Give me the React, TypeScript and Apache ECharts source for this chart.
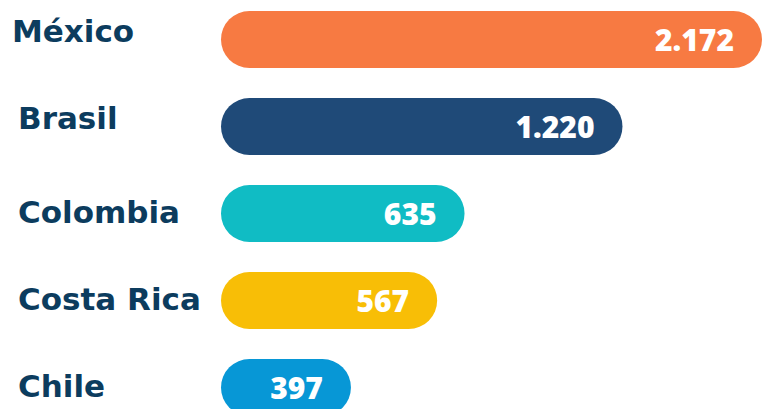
import React, { useEffect, useRef } from "react";
import * as echarts from "echarts";

const categories = ["México", "Brasil", "Colombia", "Costa Rica", "Chile"];
const values = [2172, 1220, 635, 567, 397];
const colors = ["#F77A42", "#1F4A78", "#10BCC4", "#F8BE06", "#0797D6"];

const AXIS_MIN = 232;
const AXIS_MAX = 2172;

const fmt = (v: number) => String(v).replace(/\B(?=(\d{3})+(?!\d))/g, ".");

const labelFont = { fontFamily: "'DejaVu Sans'", fontWeight: "bold" as const, fontSize: 31, color: "#0C3C5E" };

export default function App() {
  const ref = useRef<HTMLDivElement>(null);
  useEffect(() => {
    if (!ref.current) return;
    const chart = echarts.init(ref.current, undefined, { renderer: "svg" });
    chart.setOption({
      animation: false,
      grid: { left: 221, right: 0, top: 0, bottom: 0, containLabel: false },
      xAxis: { type: "log", min: AXIS_MIN, max: AXIS_MAX, show: false },
      yAxis: {
        type: "category",
        data: categories,
        inverse: true,
        axisLine: { show: false },
        axisTick: { show: false },
        splitLine: { show: false },
        axisLabel: {
          interval: 0,
          align: "left",
          margin: 209,
          formatter: (val: string, idx: number) =>
            idx === 0 ? `{a|${val}}` : idx === 1 ? `{b|${val}}` : `{c|${val}}`,
          rich: {
            a: { ...labelFont, padding: [0, 0, 18, 0] },
            b: { ...labelFont, padding: [0, 0, 18, 6] },
            c: { ...labelFont, padding: [0, 0, 4, 6] },
          },
        },
      },
      series: [
        {
          type: "custom",
          encode: { x: 0, y: 1 },
          data: values.map((v, i) => ({ value: [v, i], itemStyle: { color: colors[i] } })),
          renderItem: (params: any, api: any) => {
            const v = api.value(0);
            const i = api.value(1);
            const start = api.coord([AXIS_MIN, i]);
            const end = api.coord([v, i]);
            const h = 57;
            return {
              type: "group",
              children: [
                {
                  type: "rect",
                  shape: { x: start[0], y: end[1] - h / 2, width: end[0] - start[0], height: h, r: h / 2 },
                  style: { fill: colors[i] },
                },
                {
                  type: "text",
                  style: {
                    text: fmt(v),
                    x: end[0] - 28,
                    y: end[1],
                    align: "right",
                    verticalAlign: "middle",
                    fill: "#FFFFFF",
                    fontFamily: "'Open Sans'",
                    fontWeight: 800,
                    fontSize: 30,
                  },
                },
              ],
            };
          },
        },
      ],
    });
    return () => chart.dispose();
  }, []);
  return (
    <div
      ref={ref}
      style={{ position: "fixed", left: 0, top: -4, width: 762, height: 435, background: "#FFFFFF" }}
    />
  );
}
